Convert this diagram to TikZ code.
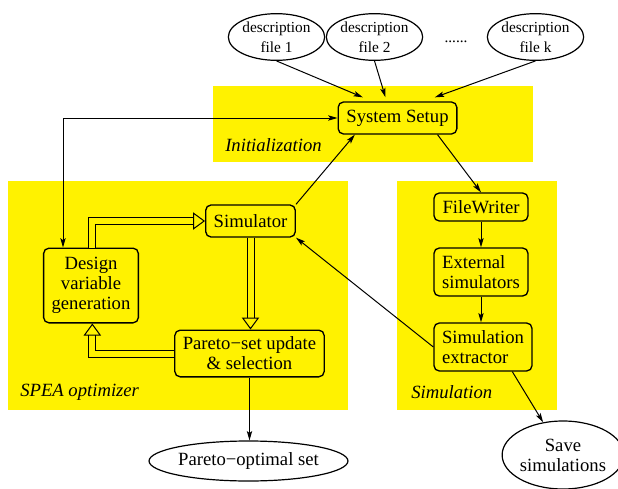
\documentclass[tikz,border=0pt]{standalone}
\usepackage{fontspec}
\setmainfont{Liberation Serif}
\newfontfamily\diagfont{Liberation Serif}
\usetikzlibrary{arrows.meta}
\usetikzlibrary{shapes.geometric}

\tikzset{
  block/.style={draw, line width=1pt, rounded corners=4pt, fill=yellow,
    font=\diagfont\fontsize{14}{15}\selectfont, inner xsep=6pt, inner ysep=2pt},
  descfile/.style={ellipse, draw, line width=0.9pt, fill=white, align=center,
    font=\diagfont\fontsize{11.5}{15}\selectfont, inner sep=0pt,
    minimum width=71pt, minimum height=35pt},
  outfile/.style={ellipse, draw, line width=0.9pt, fill=white, align=center,
    font=\diagfont\fontsize{14}{15}\selectfont, inner sep=0pt},
  region label/.style={anchor=west, font=\diagfont\fontsize{14}{15}\selectfont\itshape, inner sep=0pt},
  tip/.style={Stealth[length=7pt,width=4pt,inset=1.5pt]},
  link/.style={line width=0.75pt, -{Stealth[length=7pt,width=4pt,inset=1.5pt]}},
  flow/.style={line width=0.75pt, double=yellow, double distance=4.5pt,
    -{Triangle[open,length=9pt,width=13pt]}}
}

\begin{document}
\begin{tikzpicture}[x=0.75pt,y=-0.75pt,font=\diagfont]
  \useasboundingbox (0,0) rectangle (618,489);
  % shaded regions
  \fill[yellow] (213,86) rectangle (533,162);
  \fill[yellow] (8,181) rectangle (348,410);
  \fill[yellow] (397,181) rectangle (557,410);
  \node[region label] (initlbl) at (225,145) {Initialization};
  \node[region label] (spealbl) at (20,392) {SPEA optimizer};
  \node[region label] (simlbl) at (411,392) {Simulation};

  % description files
  \node[descfile] (d1) at (276.5,37) {description\\file 1};
  \node[descfile] (d2) at (374.5,37) {description\\file 2};
  \node[descfile] (dk) at (535.5,37) {description\\file k};
  \node[font=\diagfont\fontsize{11.5}{15}\selectfont] (dots) at (456,42) {......};

  % blocks
  \node[block, minimum width=89pt, minimum height=24pt] (setup) at (397.5,118) {System Setup};
  \node[block, minimum width=62pt, minimum height=24pt] (sim) at (250.5,221) {Simulator};
  \node[block, minimum width=70.5pt, minimum height=56pt, align=center] (design) at (91,285.5) {Design\\variable\\generation};
  \node[block, minimum width=112pt, minimum height=35pt, align=center] (pu) at (249.5,353.5) {Pareto−set update\\\& selection};
  \node[block, minimum width=70.5pt, minimum height=21pt] (fw) at (481,207) {FileWriter};
  \node[block, minimum width=70.5pt, minimum height=36pt, align=left] (ext) at (481,272) {External\\simulators};
  \node[block, minimum width=73.5pt, minimum height=36pt, align=left] (extr) at (483,347) {Simulation\\extractor};

  % outputs
  \node[outfile, minimum width=82.5pt, minimum height=51pt] (save) at (563,455) {Save\\simulations};
  \node[outfile, minimum width=130pt, minimum height=30pt] (po) at (248.5,461) {Pareto−optimal set};

  % thin connectors
  \draw[link] (d1.south) -- ([xshift=-26pt,yshift=3pt]setup.north);
  \draw[link] (d2.south) -- ([xshift=-9pt,yshift=3pt]setup.north);
  \draw[link] (dk.south) -- ([xshift=28pt,yshift=3pt]setup.north);
  \draw[line width=0.75pt, {Stealth[length=7pt,width=4pt,inset=1.5pt]}-{Stealth[length=7pt,width=4pt,inset=1.5pt]}] (setup.west) -| ([xshift=-21pt]design.north);
  \draw[link] (sim.north east) -- ([xshift=-32pt]setup.south);
  \draw[link] ([xshift=30pt]setup.south) -- (fw.north);
  \draw[link] (fw.south) -- (ext.north);
  \draw[link] (ext.south) -- (ext.south |- extr.north);
  \draw[link] (extr.west) -- (sim.south east);
  \draw[link] ([xshift=22pt]extr.south) -- (save);
  \draw[link] (pu.south) -- (pu.south |- po.north);

  % hollow flow arrows
  \draw[flow] ([xshift=1pt]design.north) |- (sim.west);
  \draw[flow] (sim.south) -- (sim.south |- pu.north);
  \draw[flow] (pu.west) -| ([xshift=1pt]design.south);
\end{tikzpicture}
\end{document}
